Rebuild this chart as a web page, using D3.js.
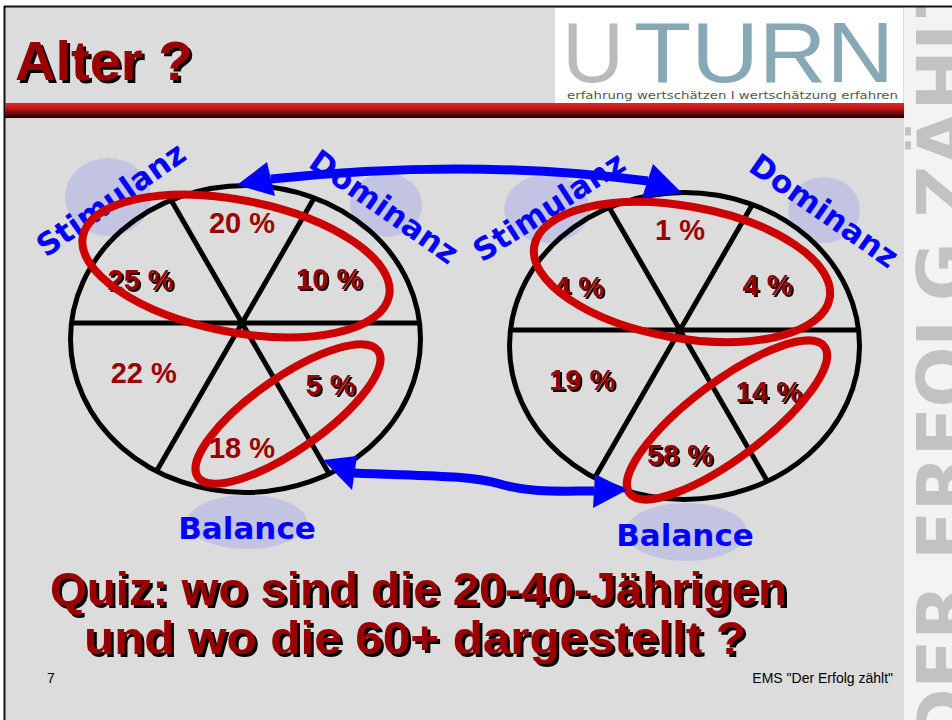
<!DOCTYPE html>
<html>
<head>
<meta charset="utf-8">
<script src="https://cdn.jsdelivr.net/npm/d3@7"></script>
<style>
  body { margin: 0; background: #fff; }
  svg { display: block; }
</style>
</head>
<body>
<script>
// segments of each disc, clockwise from the top
const segments = ['oben', 'obenLinks', 'obenRechts', 'untenLinks', 'untenRechts', 'unten'];
const sharesYoung = [20, 25, 10, 22, 5, 18];
const sharesOld = [1, 4, 4, 19, 14, 58];
const styleNames = ['Stimulanz', 'Dominanz', 'Balance'];
const titleText = 'Alter ?';
const quizLines = ['Quiz: wo sind die 20-40-Jährigen', 'und wo die 60+ dargestellt ?'];
const pageNumber = '7';
const footerText = 'EMS "Der Erfolg zählt"';
const logoParts = ['U', 'TURN'];
const logoClaim = 'erfahrung wertschätzen I wertschätzung erfahren';
const sideText = 'DER ERFOLG ZÄHLT';

const width = 952;
const height = 720;
const darkRed = '#990000';
const blue = '#0000ff';

const svg = d3.select('body').append('svg')
  .attr('width', width)
  .attr('height', height);

const defs = svg.append('defs');
const barGrad = defs.append('linearGradient')
  .attr('id', 'bar')
  .attr('x1', 0).attr('y1', 0).attr('x2', 0).attr('y2', 1);
barGrad.append('stop').attr('offset', 0).attr('stop-color', '#e22626');
barGrad.append('stop').attr('offset', 0.35).attr('stop-color', '#c81818');
barGrad.append('stop').attr('offset', 1).attr('stop-color', '#1a0000');

// hard black drop shadows like the slide's text effect
[2, 3].forEach((d) => {
  const f = defs.append('filter')
    .attr('id', `shadow${d}`)
    .attr('x', '-5%').attr('y', '-20%')
    .attr('width', '115%').attr('height', '150%');
  f.append('feOffset').attr('in', 'SourceAlpha').attr('dx', d).attr('dy', d).attr('result', 'off');
  const m = f.append('feMerge');
  m.append('feMergeNode').attr('in', 'off');
  m.append('feMergeNode').attr('in', 'SourceGraphic');
});

defs.append('clipPath').attr('id', 'strip')
  .append('rect').attr('x', 905).attr('y', 7).attr('width', width - 905).attr('height', height - 7);

// slide background, side strip and frame
svg.append('rect').attr('x', 5).attr('y', 7).attr('width', 899).attr('height', height - 7).attr('fill', '#dcdcdc');
svg.append('rect').attr('x', 904).attr('y', 7).attr('width', width - 904).attr('height', height - 7).attr('fill', '#f3f3f3');

svg.append('g')
  .attr('clip-path', 'url(#strip)')
  .append('text')
  .text(sideText)
  .attr('transform', 'translate(968, 748) rotate(-90)')
  .attr('textLength', 780)
  .attr('lengthAdjust', 'spacing')
  .attr('font-family', 'DejaVu Sans')
  .attr('font-weight', 'bold')
  .attr('font-size', 72)
  .attr('fill', '#c2c2c2');

svg.append('line').attr('x1', 4).attr('x2', width).attr('y1', 6.5).attr('y2', 6.5).attr('stroke', '#111').attr('stroke-width', 2);
svg.append('line').attr('x1', 4.5).attr('x2', 4.5).attr('y1', 6).attr('y2', height).attr('stroke', '#111').attr('stroke-width', 2);

// logo
const logo = svg.append('g');
logo.append('rect').attr('x', 555).attr('y', 8).attr('width', 348).attr('height', 95).attr('fill', '#fff');
logo.append('text')
  .text(logoParts[0])
  .attr('x', 562).attr('y', 82)
  .attr('font-family', 'Liberation Sans')
  .attr('font-size', 86)
  .attr('fill', '#b9babc');
logo.append('text')
  .text(logoParts[1])
  .attr('x', 634).attr('y', 82)
  .attr('textLength', 260)
  .attr('lengthAdjust', 'spacingAndGlyphs')
  .attr('font-family', 'Liberation Sans')
  .attr('font-size', 86)
  .attr('fill', '#87a8b4');
logo.append('text')
  .text(logoClaim)
  .attr('x', 567).attr('y', 99)
  .attr('textLength', 331)
  .attr('lengthAdjust', 'spacingAndGlyphs')
  .attr('font-family', 'DejaVu Sans')
  .attr('font-size', 11)
  .attr('fill', '#555');

svg.append('rect').attr('x', 5).attr('y', 103).attr('width', 899).attr('height', 15).attr('fill', 'url(#bar)');

// dark red bold text, optionally with a drop shadow
function redText(parent, str, x, y, size, shift, opts = {}) {
  const t = parent.append('text')
    .text(str)
    .attr('x', x)
    .attr('y', y)
    .attr('font-family', 'Liberation Sans')
    .attr('font-weight', 'bold')
    .attr('font-size', size)
    .attr('text-anchor', opts.anchor || 'start')
    .attr('fill', darkRed);
  if (shift) t.attr('filter', `url(#shadow${shift})`);
  if (opts.length) t.attr('textLength', opts.length).attr('lengthAdjust', 'spacingAndGlyphs');
  return t;
}

redText(svg, titleText, 15, 80, 56, 3);

// the two discs
const panels = [
  {
    shares: sharesYoung,
    hub: [242, 323], cx: 245.5, cy: 339, rx: 175, ry: 153.5,
    shadow: [false, true, true, false, true, false],
    topRing: { dx: -6, dy: -57, rx: 156, ry: 66, rot: 11 },
    lowRing: { dx: 46, dy: 91, rx: 110, ry: 36, rot: -35 },
    blobs: [[108, 197, 43, 39], [386, 205, 36, 32], [247, 522, 60, 27]],
    names: [[46, 258, -35], [307, 166, 35], [247, 539, 0]],
  },
  {
    shares: sharesOld,
    hub: [680, 330], cx: 684.5, cy: 346, rx: 175, ry: 153.5,
    shadow: [false, true, true, true, true, true],
    topRing: { dx: 2, dy: -58, rx: 150, ry: 66, rot: 10 },
    lowRing: { dx: 47, dy: 90, rx: 122, ry: 38, rot: -37 },
    blobs: [[547, 209, 43, 34], [824, 210, 36, 33], [686, 532, 61, 29]],
    names: [[482, 263, -33], [747, 170, 35], [685, 546, 0]],
  },
];

// label direction and depth (share of the hub-to-rim distance) per segment
const labelAngle = d3.scaleOrdinal().domain(segments).range([-90, -157, -27, 153, 35, 90]);
const labelDepth = d3.scaleOrdinal().domain(segments).range([0.73, 0.69, 0.6, 0.63, 0.6, 0.74]);

function rimDistance(p, deg) {
  const a = deg * Math.PI / 180;
  const ox = (p.hub[0] - p.cx) / p.rx;
  const oy = (p.hub[1] - p.cy) / p.ry;
  const ux = Math.cos(a) / p.rx;
  const uy = Math.sin(a) / p.ry;
  const A = ux * ux + uy * uy;
  const B = 2 * (ox * ux + oy * uy);
  const C = ox * ox + oy * oy - 1;
  return (-B + Math.sqrt(B * B - 4 * A * C)) / (2 * A);
}

function pointAt(p, deg, frac) {
  const r = rimDistance(p, deg) * frac;
  const a = deg * Math.PI / 180;
  return [p.hub[0] + r * Math.cos(a), p.hub[1] + r * Math.sin(a)];
}

panels.forEach((p) => {
  const g = svg.append('g');

  g.selectAll('ellipse.blob')
    .data(p.blobs)
    .enter()
    .append('ellipse')
    .attr('class', 'blob')
    .attr('cx', (d) => d[0]).attr('cy', (d) => d[1])
    .attr('rx', (d) => d[2]).attr('ry', (d) => d[3])
    .attr('fill', '#c3c3e2');

  g.selectAll('text.name')
    .data(styleNames)
    .enter()
    .append('text')
    .attr('class', 'name')
    .text((d) => d)
    .attr('transform', (d, i) => `translate(${p.names[i][0]}, ${p.names[i][1]}) rotate(${p.names[i][2]})`)
    .attr('text-anchor', (d, i) => (i === 2 ? 'middle' : 'start'))
    .attr('font-family', 'DejaVu Sans')
    .attr('font-weight', 'bold')
    .attr('font-size', 31)
    .attr('fill', blue);

  g.append('ellipse')
    .attr('cx', p.cx).attr('cy', p.cy)
    .attr('rx', p.rx).attr('ry', p.ry)
    .attr('fill', 'none')
    .attr('stroke', '#000')
    .attr('stroke-width', 5);

  g.selectAll('line.spoke')
    .data([0, 60, 120])
    .enter()
    .append('line')
    .attr('class', 'spoke')
    .each(function (deg) {
      const a = pointAt(p, deg, 1);
      const b = pointAt(p, deg + 180, 1);
      d3.select(this).attr('x1', a[0]).attr('y1', a[1]).attr('x2', b[0]).attr('y2', b[1]);
    })
    .attr('stroke', '#000')
    .attr('stroke-width', 5);

  segments.forEach((s, i) => {
    const [x, y] = pointAt(p, labelAngle(s), labelDepth(s));
    redText(g, `${p.shares[i]} %`, x, y + 10, 29, p.shadow[i] ? 2 : 0, { anchor: 'middle' });
  });

  [p.topRing, p.lowRing].forEach((r) => {
    g.append('ellipse')
      .attr('transform', `translate(${p.hub[0] + r.dx}, ${p.hub[1] + r.dy}) rotate(${r.rot})`)
      .attr('rx', r.rx).attr('ry', r.ry)
      .attr('fill', 'none')
      .attr('stroke', '#cc0000')
      .attr('stroke-width', 8);
  });
});

// blue double arrows linking the discs
const arrows = svg.append('g');
arrows.append('path')
  .attr('d', 'M271,179 Q470,158 648,181')
  .attr('fill', 'none').attr('stroke', blue).attr('stroke-width', 9);
arrows.append('path')
  .attr('d', 'M354,473 C420,476 470,475 500,484 S560,491 594,491')
  .attr('fill', 'none').attr('stroke', blue).attr('stroke-width', 9);
[
  [[237, 185], [267, 162], [275, 196]],
  [[682, 193], [653, 164], [642, 198]],
  [[323, 460], [357, 456], [352, 490]],
  [[627, 490], [595, 474], [593, 508]],
].forEach((tri) => {
  arrows.append('path')
    .attr('d', d3.line()(tri) + 'Z')
    .attr('fill', blue);
});

// quiz question and footer
redText(svg, quizLines[0], 50, 605, 47, 3, { length: 737 });
redText(svg, quizLines[1], 84, 654, 47, 3, { length: 662 });

svg.append('text')
  .text(pageNumber)
  .attr('x', 47).attr('y', 683)
  .attr('font-family', 'Liberation Sans')
  .attr('font-size', 14)
  .attr('fill', '#000');
svg.append('text')
  .text(footerText)
  .attr('x', 893).attr('y', 683)
  .attr('text-anchor', 'end')
  .attr('font-family', 'Liberation Sans')
  .attr('font-size', 14)
  .attr('fill', '#000');
</script>
</body>
</html>
